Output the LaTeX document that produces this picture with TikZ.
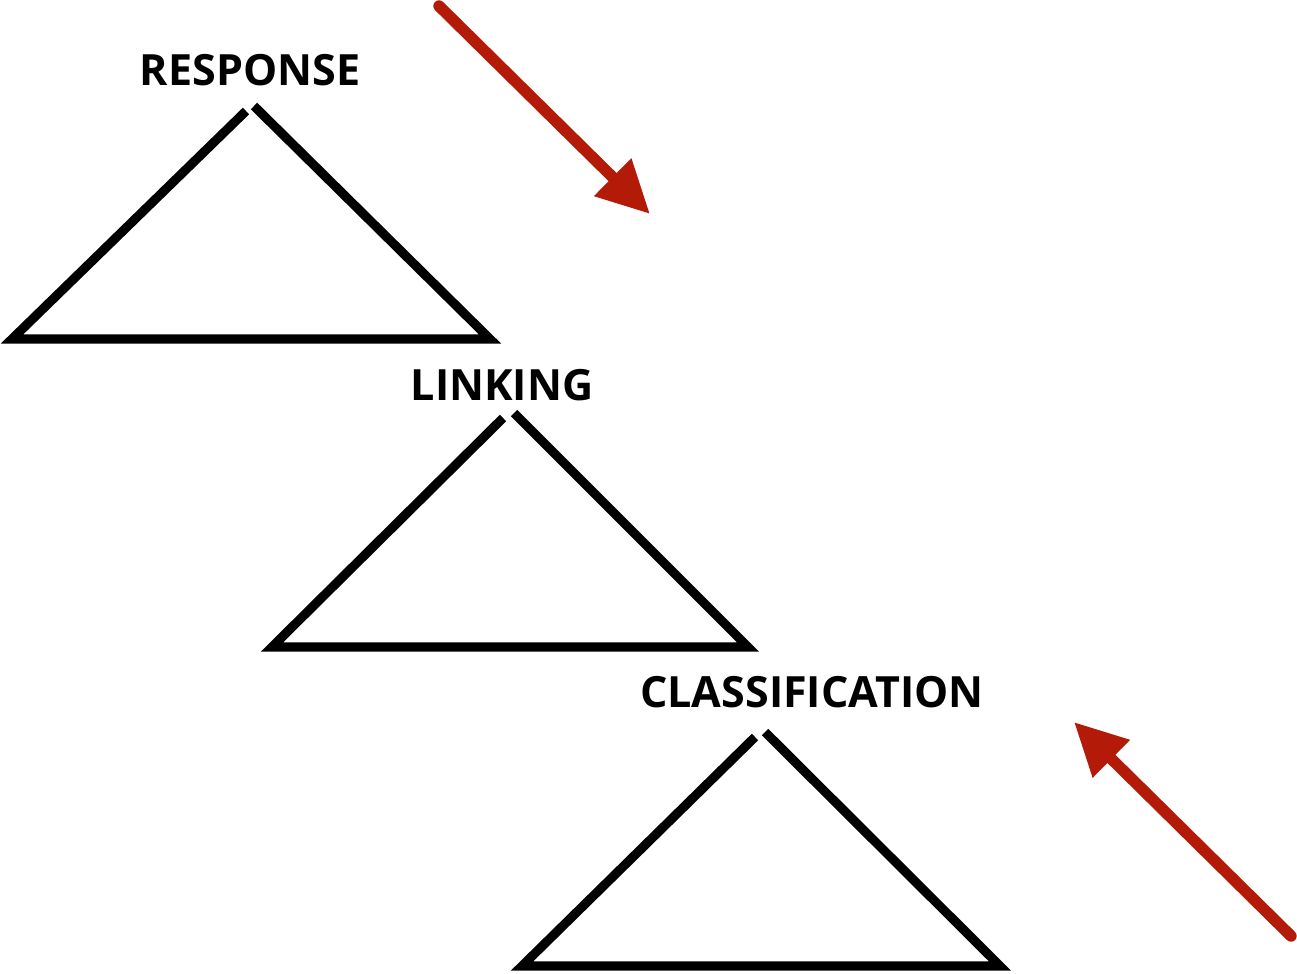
\documentclass[tikz,border=0pt]{standalone}
\usepackage{fontspec}
\setmainfont{Open Sans}
\usetikzlibrary{arrows.meta}

\definecolor{arrowred}{RGB}{180,26,8}

\tikzset{
  tri/.style={line width=5.2pt, line join=miter, black},
  label/.style={font=\bfseries\fontsize{24.5}{28}\selectfont, inner sep=0pt},
  redarrow/.style={arrowred, line width=6.5pt, line cap=round,
    -{Triangle[length=1.05cm, width=1cm]}}
}

\begin{document}
\begin{tikzpicture}[x=0.02cm, y=-0.02cm]
        \useasboundingbox (0,0) rectangle (1297,973);

        % triangles
        \draw[tri] (246,111) -- (12,339) -- (490,339) -- (254,106);
        \draw[tri] (503,418) -- (272,647) -- (748,647) -- (514,413);
        \draw[tri] (755,737) -- (522,966) -- (1000,966) -- (765,732);

        % labels
        \node[label] (response) at (250,70) {RESPONSE};
        \node[label] (linking) at (502,385) {LINKING};
        \node[label] (classification) at (812,692) {CLASSIFICATION};

        % arrows
        \coordinate (a1start) at (439,6);
        \coordinate (a1end) at (650,214);
        \coordinate (a2start) at (1291,936);
        \coordinate (a2end) at (1074,722);
        \draw[redarrow] (a1start) -- (a1end);
        \draw[redarrow] (a2start) -- (a2end);
      \end{tikzpicture}
\end{document}
